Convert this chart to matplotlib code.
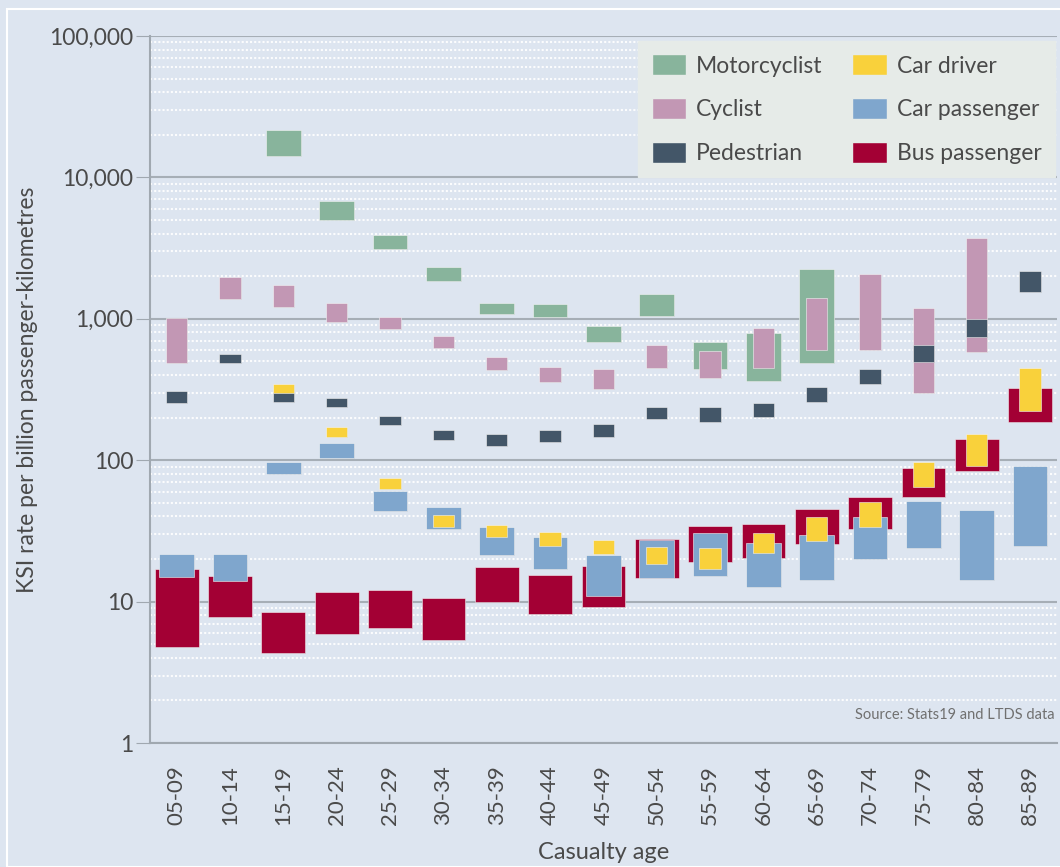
import numpy as np
import matplotlib.pyplot as plt
import matplotlib.patheffects as pe
from matplotlib.patches import Rectangle, Patch
from matplotlib.ticker import FixedLocator, LogLocator, NullFormatter

ages = ["05-09", "10-14", "15-19", "20-24", "25-29", "30-34", "35-39", "40-44", "45-49",
        "50-54", "55-59", "60-64", "65-69", "70-74", "75-79", "80-84", "85-89"]

# low / high ends of each range (None = no bar)
moto_lo = [None, None, 14200, 5000, 3120, 1850, 1080, 1030, 685, 1050, 442, 363, 487, None, None, None, None]
moto_hi = [None, None, 21600, 6800, 3900, 2320, 1290, 1270, 890, 1500, 685, 794, 2250, None, None, None, None]

cyc_lo = [487, 1380, 1210, 949, 847, 621, 434, 357, 319, 449, 381, 449, 602, 602, 299, 582, None]
cyc_hi = [1013, 1975, 1730, 1290, 1030, 755, 537, 456, 442, 653, 592, 861, 1400, 2070, 1190, 3730, None]

ped_lo = [254, 487, 258, 238, 177, 139, 126, 135, 146, 196, 186, 202, 258, 346, 495, 743, 1550]
ped_hi = [308, 564, 299, 275, 205, 164, 153, 164, 180, 238, 238, 254, 329, 442, 653, 997, 2180]

drv_lo = [None, None, 290, 146, 62.5, 33.7, 28.6, 24.7, 21.7, 18.5, 17.0, 22.1, 26.8, 33.7, 64.6, 91, 223]
drv_hi = [None, None, 345, 172, 74.8, 41, 34.8, 31.1, 27.3, 24.3, 23.9, 30.6, 39.6, 50.6, 97, 153, 449]

pas_lo = [14.9, 14.0, 79.9, 104, 43.7, 32.6, 21.4, 17.0, 11.0, 14.7, 15.2, 12.7, 14.2, 20.0, 23.9, 14.2, 24.7]
pas_hi = [21.7, 21.7, 97, 132, 60.6, 46.7, 33.7, 28.6, 21.4, 27.3, 30.6, 26.0, 29.6, 39.6, 51.5, 44.4, 91]

bus_lo = [4.77, 7.78, 4.33, 5.90, 6.51, 5.35, 9.94, 8.17, 9.16, 14.7, 19.1, 20.3, 25.6, 32.6, 54.9, 83.9, 186]
bus_hi = [17.0, 15.2, 8.44, 11.7, 12.1, 10.6, 17.6, 15.4, 17.9, 27.7, 34.2, 35.4, 45.2, 54.9, 88.1, 141, 324]

bg = "#dde5f0"
txt = "#4a4a4a"

plt.rcParams["font.family"] = ["Lato", "DejaVu Sans"]

fig = plt.figure(figsize=(10.6, 8.67), dpi=100, facecolor=bg)
ax = fig.add_axes([0.1415, 0.143, 0.8555, 0.8155])
ax.set_facecolor(bg)

# white frame round the figure
fig.patches.append(Rectangle((0.007, 0.0), 1.2, 0.99, transform=fig.transFigure,
                             fill=False, edgecolor="white", linewidth=1.5))

x = np.arange(len(ages))
shadow = [pe.SimplePatchShadow(offset=(0.6, -0.8), alpha=0.18), pe.Normal()]


def draw_range(lo, hi, width, color, label):
    xs, bottoms, heights = [], [], []
    for i, (a, b) in enumerate(zip(lo, hi)):
        if a is None:
            continue
        xs.append(x[i])
        bottoms.append(a)
        heights.append(b - a)
    bars = ax.bar(xs, heights, bottom=bottoms, width=width, color=color,
                  edgecolor="#f4f4f4", linewidth=0.4, label=label, zorder=3)
    for b in bars:
        b.set_path_effects(shadow)
    return bars


draw_range(bus_lo, bus_hi, 0.82, "#a30034", "Bus passenger")
draw_range(pas_lo, pas_hi, 0.65, "#7fa6cd", "Car passenger")
draw_range(drv_lo, drv_hi, 0.40, "#f9d13b", "Car driver")
draw_range(moto_lo, moto_hi, 0.65, "#88b49c", "Motorcyclist")
draw_range(cyc_lo, cyc_hi, 0.40, "#c297b4", "Cyclist")
draw_range(ped_lo, ped_hi, 0.40, "#435668", "Pedestrian")

ax.set_yscale("log")
ax.set_ylim(1, 100000)
ax.set_xlim(-0.5, len(ages) - 0.5)

ax.yaxis.set_major_locator(FixedLocator([1, 10, 100, 1000, 10000, 100000]))
ax.set_yticklabels(["1", "10", "100", "1,000", "10,000", "100,000"])
ax.yaxis.set_minor_locator(LogLocator(base=10, subs=np.arange(2, 10)))
ax.yaxis.set_minor_formatter(NullFormatter())
ax.tick_params(axis="y", which="major", length=10, color="#a0a8b0", labelsize=16.5, labelcolor=txt, pad=2)
ax.tick_params(axis="y", which="minor", length=0)

ax.set_xticks(x)
ax.set_xticklabels(ages, rotation=90)
ax.tick_params(axis="x", length=0, labelsize=16, labelcolor=txt, pad=16)

ax.grid(axis="y", which="major", color="#a6aeb6", linewidth=1.5, zorder=1)
ax.grid(axis="y", which="minor", color="white", linestyle=(0, (1, 1)), linewidth=1.5, alpha=0.9, zorder=1)
ax.set_axisbelow(True)

for s in ["top", "right"]:
    ax.spines[s].set_visible(False)
for s in ["left", "bottom"]:
    ax.spines[s].set_color("#a0a8b0")
    ax.spines[s].set_linewidth(1.5)

ax.set_ylabel("KSI rate per billion passenger-kilometres", fontsize=16.5, color=txt, labelpad=8)
ax.set_xlabel("Casualty age", fontsize=17, color=txt, labelpad=12)

ax.text(0.998, 0.03, "Source: Stats19 and LTDS data", transform=ax.transAxes,
        ha="right", va="bottom", fontsize=10.5, color="#707070")

order = [("Motorcyclist", "#88b49c"), ("Cyclist", "#c297b4"), ("Pedestrian", "#435668"),
         ("Car driver", "#f9d13b"), ("Car passenger", "#7fa6cd"), ("Bus passenger", "#a30034")]
handles = [Patch(facecolor=c, edgecolor="#e6ebe8", label=n) for n, c in order]
leg = ax.legend(handles=handles, ncol=2, loc="upper right", bbox_to_anchor=(1.0, 0.995),
                fontsize=16.5, frameon=True, facecolor="#e6ebe8", edgecolor="#e6ebe8",
                framealpha=1, handlelength=1.5, handleheight=1.0, handletextpad=0.45,
                columnspacing=1.3, labelspacing=0.95, borderpad=0.55, borderaxespad=0.1)
leg.get_frame().set_boxstyle("round,pad=0.02")
for t in leg.get_texts():
    t.set_color(txt)
leg.set_zorder(10)

fig.savefig("out.png", dpi=100, facecolor=bg)
